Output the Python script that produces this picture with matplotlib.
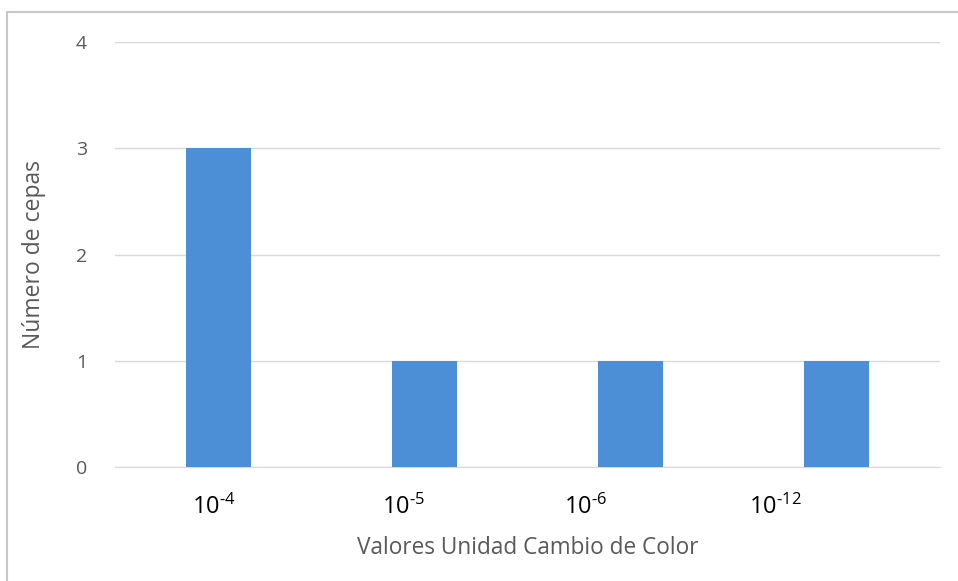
import matplotlib
matplotlib.use("Agg")
import matplotlib.pyplot as plt
from matplotlib.patches import Rectangle
import numpy as np

# Número de cepas por valor de unidad de cambio de color
categorias = [r"$\mathregular{10^{\text{-4}}}$", r"$\mathregular{10^{\text{-5}}}$",
              r"$\mathregular{10^{\text{-6}}}$", r"$\mathregular{10^{\text{-12}}}$"]
num_cepas = [3, 1, 1, 1]
y_ticks = [0, 1, 2, 3, 4]

bar_color = "#4d8fd6"
grid_color = "#d9d9d9"
text_gray = "#595959"

plt.rcParams["font.family"] = ["Open Sans", "DejaVu Sans"]
plt.rcParams["mathtext.fontset"] = "custom"
plt.rcParams["mathtext.rm"] = "Open Sans"

dpi = 100
fig = plt.figure(figsize=(958 / dpi, 581 / dpi), dpi=dpi)
fig.patch.set_facecolor("white")

# outer chart frame
fig.patches.append(Rectangle((7 / 958, -0.05), 1.1, 1 - 12 / 581 + 0.05,
                             transform=fig.transFigure, fill=False,
                             edgecolor="#c8c8c8", linewidth=1.5))

ax = fig.add_axes([115 / 958, 1 - 467 / 581, 825 / 958, 425 / 581])

x = np.arange(len(num_cepas))
ax.bar(x, num_cepas, width=0.315, color=bar_color, zorder=3)

ax.set_xlim(-0.5, len(num_cepas) - 0.5)
ax.set_ylim(0, 4)
ax.set_yticks(y_ticks)
ax.set_yticklabels([str(t) for t in y_ticks], color=text_gray, fontsize=14)
ax.yaxis.grid(True, color=grid_color, linewidth=1, zorder=0)
ax.tick_params(axis="y", length=0, pad=20)

# the category labels sit a bit left of each bar
label_shift = [-0.02, -0.1, -0.22, -0.3]
ax.set_xticks(x + np.array(label_shift))
ax.set_xticklabels(categorias, fontsize=17, color="black")
ax.tick_params(axis="x", length=0, pad=20)

for side in ["top", "right", "left"]:
    ax.spines[side].set_visible(False)
ax.spines["bottom"].set_color(grid_color)

ax.set_xlabel("Valores Unidad Cambio de Color", fontsize=16.3, color=text_gray)
ax.set_ylabel("Número de cepas", fontsize=16.5, color=text_gray)
ax.xaxis.set_label_coords(0.5, -0.163)
ax.yaxis.set_label_coords(-0.084, 0.5)

fig.savefig("out.png", dpi=dpi, facecolor="white")
